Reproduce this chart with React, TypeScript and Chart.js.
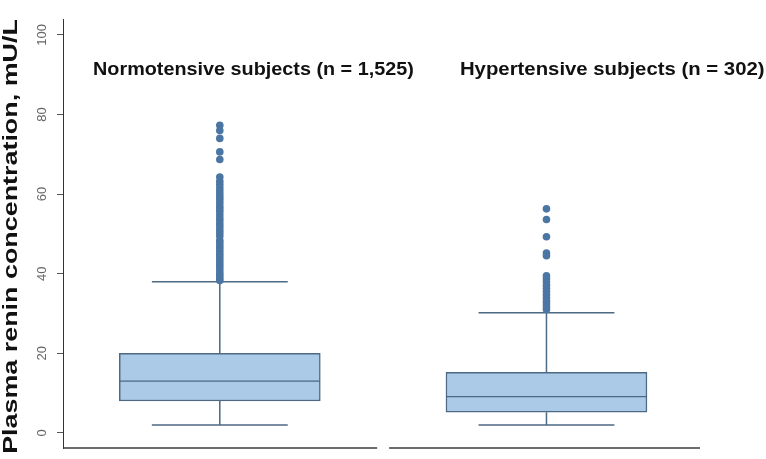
import React, { useEffect, useRef } from "react";
import { Chart, registerables } from "chart.js";

Chart.register(...registerables);

// ---------- data ----------
const groupLabels = ["Normotensive subjects (n = 1,525)", "Hypertensive subjects (n = 302)"];
const groupPositions = [0, 1];
const whiskerLow = [2, 2];
const q1 = [8, 5.2];
const median = [13, 9.1];
const q3 = [20, 15.2];
const whiskerHigh = [38, 30.2];
const outliersNormotensive = [
  77.3, 76, 74, 70.6, 68.7, 64.3, 63.2, 62.4, 61.6, 60.8, 60, 59.3, 58.6, 57.8, 57, 56.3,
  55.6, 54.8, 54, 53.3, 52.5, 51.8, 51, 50.3, 49.5, 48.4, 47.7, 47, 46.3, 45.6, 44.9,
  44.2, 43.5, 42.8, 42.1, 41.4, 40.7, 40, 39.4, 38.8, 38.3,
];
const outliersHypertensive = [
  56.3, 53.6, 49.3, 45.2, 44.5, 39.5, 38.7, 37.9, 37.1, 36.3, 35.5, 34.7, 33.9, 33.1, 32.4, 31.7, 31,
];
const yTicks = [0, 20, 40, 60, 80, 100];
const yAxisTitle = "Plasma renin concentration, mU/L";

// ---------- styles / layout ----------
const BOX_FILL = "#abcae7";
const BOX_BORDER = "#4d6984";
const DOT_COLOR = "#4b76a3";
const CAP_HALF = 0.208;
const TITLE_OFFSETS = [-0.388, -0.265];
const TITLE_VALUE = 91.2;

const decorPlugin = {
  id: "decor",
  afterDraw(chart: any) {
    const { ctx, chartArea, scales } = chart;
    const x = scales.x;
    const y = scales.y;
    ctx.save();
    // bottom axis (two segments)
    const mid = x.getPixelForValue(0.5);
    ctx.strokeStyle = "#3c3c3c";
    ctx.lineWidth = 1.5;
    ctx.beginPath();
    ctx.moveTo(chartArea.left, chartArea.bottom);
    ctx.lineTo(mid - 6, chartArea.bottom);
    ctx.moveTo(mid + 6, chartArea.bottom);
    ctx.lineTo(chartArea.right, chartArea.bottom);
    ctx.stroke();

    // rotated tick labels
    ctx.fillStyle = "#666";
    ctx.font = '13px "Liberation Sans", Arial, sans-serif';
    ctx.textAlign = "center";
    ctx.textBaseline = "middle";
    yTicks.forEach((v) => {
      const py = y.getPixelForValue(v);
      ctx.save();
      ctx.translate(chartArea.left - 21, py);
      ctx.rotate(-Math.PI / 2);
      ctx.fillText(String(v), 0, 0);
      ctx.restore();
    });

    // y axis title
    ctx.save();
    ctx.fillStyle = "#111";
    ctx.font = 'bold 21px "Liberation Sans", Arial, sans-serif';
    ctx.translate(11, (chartArea.top + chartArea.bottom) / 2 + 3);
    ctx.rotate(-Math.PI / 2);
    ctx.scale(1.28, 1);
    ctx.textAlign = "center";
    ctx.textBaseline = "middle";
    ctx.fillText(yAxisTitle, 0, 0);
    ctx.restore();

    // group titles
    ctx.fillStyle = "#111";
    ctx.font = 'bold 18px "Liberation Sans", Arial, sans-serif';
    ctx.textAlign = "left";
    ctx.textBaseline = "middle";
    groupLabels.forEach((label, i) => {
      const px = x.getPixelForValue(groupPositions[i] + TITLE_OFFSETS[i]);
      const py = y.getPixelForValue(TITLE_VALUE);
      ctx.save();
      ctx.translate(px, py);
      ctx.scale(i === 0 ? 1.1 : 1.13, 1);
      ctx.fillText(label, 0, 0);
      ctx.restore();
    });
    ctx.restore();
  },
};

function whiskerPoints() {
  const pts: { x: number; y: number | null }[] = [];
  groupPositions.forEach((p, i) => {
    pts.push({ x: p, y: q1[i] }, { x: p, y: whiskerLow[i] }, { x: p, y: null });
    pts.push({ x: p - CAP_HALF, y: whiskerLow[i] }, { x: p + CAP_HALF, y: whiskerLow[i] }, { x: p, y: null });
    pts.push({ x: p, y: q3[i] }, { x: p, y: whiskerHigh[i] }, { x: p, y: null });
    pts.push({ x: p - CAP_HALF, y: whiskerHigh[i] }, { x: p + CAP_HALF, y: whiskerHigh[i] }, { x: p, y: null });
  });
  return pts;
}

export default function App() {
  const canvasRef = useRef<HTMLCanvasElement | null>(null);

  useEffect(() => {
    if (!canvasRef.current) return;
    const chart = new Chart(canvasRef.current, {
      type: "bar",
      data: {
        datasets: [
          {
            type: "scatter",
            label: "outliers normotensive",
            data: outliersNormotensive.map((v) => ({ x: groupPositions[0], y: v })),
            pointRadius: 3.8,
            pointBackgroundColor: DOT_COLOR,
            pointBorderWidth: 0,
            order: 0,
          } as any,
          {
            type: "scatter",
            label: "outliers hypertensive",
            data: outliersHypertensive.map((v) => ({ x: groupPositions[1], y: v })),
            pointRadius: 3.8,
            pointBackgroundColor: DOT_COLOR,
            pointBorderWidth: 0,
            order: 0,
          } as any,
          {
            type: "bar",
            label: "lower box",
            data: groupPositions.map((p, i) => ({ x: p, y: [q1[i], median[i]] })),
            backgroundColor: BOX_FILL,
            borderColor: BOX_BORDER,
            borderWidth: { top: 1, bottom: 1.5, left: 1.5, right: 1.5 },
            borderSkipped: false,
            barThickness: 201,
            grouped: false,
            order: 1,
          } as any,
          {
            type: "bar",
            label: "upper box",
            data: groupPositions.map((p, i) => ({ x: p, y: [median[i], q3[i]] })),
            backgroundColor: BOX_FILL,
            borderColor: BOX_BORDER,
            borderWidth: { top: 1.5, bottom: 1, left: 1.5, right: 1.5 },
            borderSkipped: false,
            barThickness: 201,
            grouped: false,
            order: 1,
          } as any,
          {
            type: "line",
            label: "whiskers",
            data: whiskerPoints(),
            borderColor: BOX_BORDER,
            borderWidth: 1.5,
            pointRadius: 0,
            spanGaps: false,
            fill: false,
            order: 2,
          } as any,
        ],
      },
      options: {
        animation: false,
        responsive: true,
        maintainAspectRatio: false,
        layout: { padding: { top: 19, bottom: 11, left: 0, right: 66 } },
        plugins: { legend: { display: false }, tooltip: { enabled: false }, title: { display: false } },
        scales: {
          x: {
            type: "linear",
            min: -0.48,
            max: 1.47,
            offset: false,
            grid: { offset: false },
            display: false,
          },
          y: {
            type: "linear",
            min: -3.8,
            max: 104,
            ticks: { display: false, stepSize: 20, includeBounds: false },
            grid: { drawOnChartArea: false, drawTicks: true, tickLength: 6, color: "#555" },
            border: { display: true, color: "#333", width: 1 },
            afterFit: (scale: any) => {
              scale.width = 63;
            },
          },
        },
      },
      plugins: [decorPlugin],
    });
    return () => chart.destroy();
  }, []);

  return (
    <div style={{ position: "fixed", left: 0, top: 0, width: 766, height: 459, background: "#fff" }}>
      <canvas ref={canvasRef} />
    </div>
  );
}
